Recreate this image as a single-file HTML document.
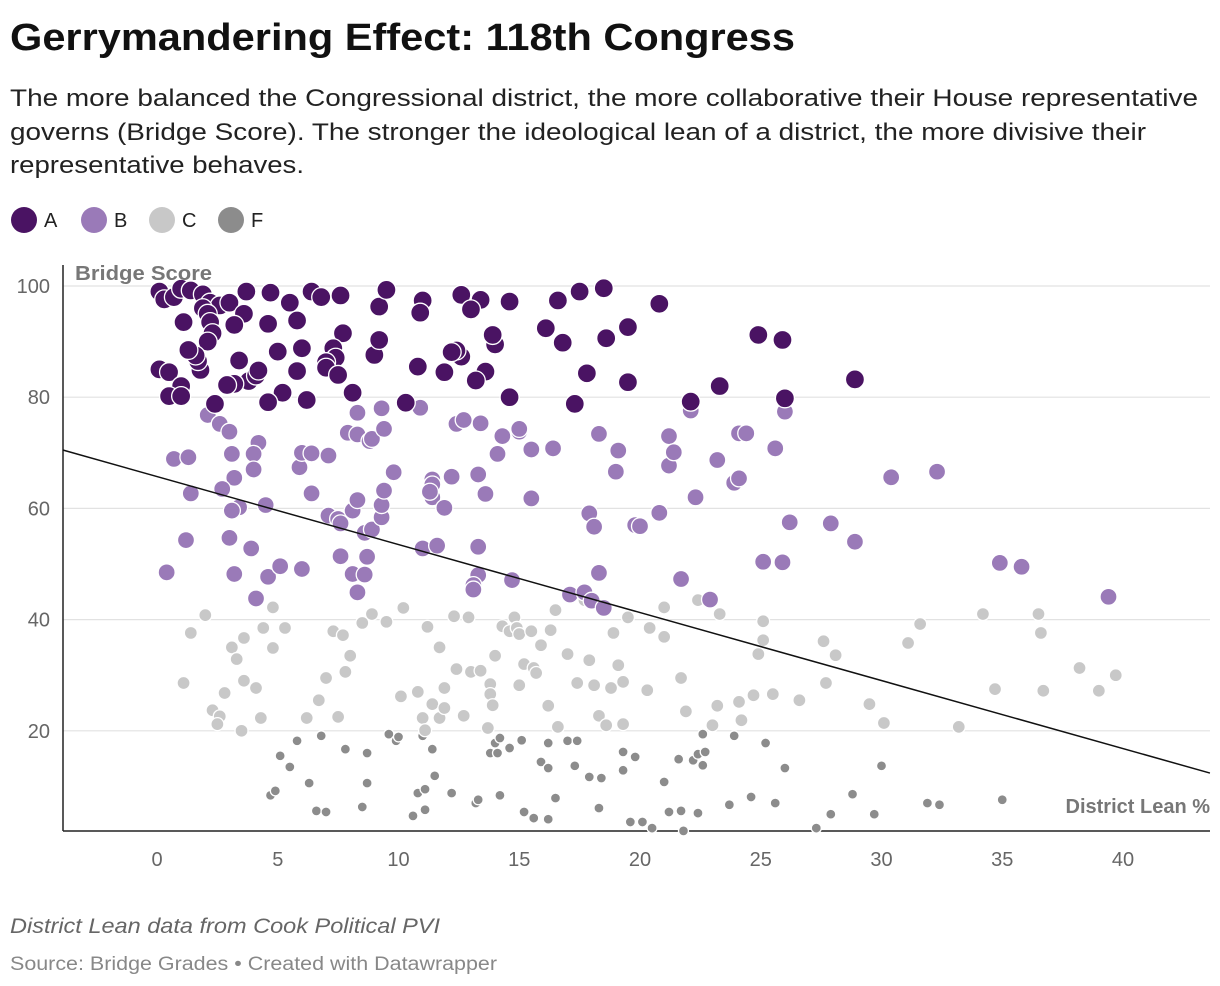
<!DOCTYPE html>
<html><head><meta charset="utf-8"><style>
html,body{margin:0;padding:0;background:#fff;}
svg{display:block;font-family:"Liberation Sans",sans-serif;}
</style></head><body>
<svg id="chart" width="1220" height="986" viewBox="0 0 1220 986">
<text x="10" y="50" font-size="38" font-weight="bold" fill="#111" textLength="785" lengthAdjust="spacingAndGlyphs">Gerrymandering Effect: 118th Congress</text>
<g font-size="24" fill="#222">
<text x="10" y="106" textLength="1188" lengthAdjust="spacingAndGlyphs">The more balanced the Congressional district, the more collaborative their House representative</text>
<text x="10" y="140" textLength="1136" lengthAdjust="spacingAndGlyphs">governs (Bridge Score). The stronger the ideological lean of a district, the more divisive their</text>
<text x="10" y="173" textLength="294" lengthAdjust="spacingAndGlyphs">representative behaves.</text>
</g>
<g id="legend" font-size="20" fill="#222"></g>
<g id="grid"></g>
<g id="axes"></g>
<g id="marks"></g>
<text x="75" y="280" font-size="20" font-weight="bold" fill="#777" textLength="137" lengthAdjust="spacingAndGlyphs">Bridge Score</text>
<text x="1210" y="813" text-anchor="end" font-size="20" font-weight="bold" fill="#777">District Lean %</text>
<text x="10" y="933" font-size="21" font-style="italic" fill="#666" textLength="430" lengthAdjust="spacingAndGlyphs">District Lean data from Cook Political PVI</text>
<text x="10" y="970" font-size="19" fill="#888" textLength="487" lengthAdjust="spacingAndGlyphs">Source: Bridge Grades • Created with Datawrapper</text>
</svg>
<script>
const xTicks=[0,5,10,15,20,25,30,35,40];
const yTicks=[20,40,60,80,100];
const trendLean=[-3.9,43.6];
const trendScore=[70.5,12.4];
const gradeNames=["A","B","C","F"];
const gradeA=[[0.1,99],[0.3,97.6],[0.7,98],[1.0,99.5],[1.4,99.2],[1.9,98.5],[2.2,97],[2.6,96.5],[3.0,97],[3.6,95],[1.9,96],[2.1,95],[2.2,93.5],[2.3,91.5],[2.1,90],[1.1,93.5],[3.2,93],[3.7,99],[4.7,98.8],[5.5,97],[5.8,93.8],[4.6,93.2],[6.4,99],[6.8,98],[7.6,98.3],[9.2,96.3],[9.5,99.3],[11,97.4],[10.9,95.2],[12.6,98.4],[13.4,97.5],[13.0,95.8],[14.6,97.2],[16.6,97.4],[17.5,99],[18.5,99.6],[20.8,96.8],[16.1,92.4],[16.8,89.8],[18.6,90.6],[19.5,92.6],[24.9,91.2],[25.9,90.3],[28.9,83.2],[26,79.8],[23.3,82],[22.1,79.2],[19.5,82.7],[17.8,84.3],[17.3,78.8],[14.6,80],[13.6,84.6],[13.2,83],[14.0,89.5],[13.9,91.2],[12.6,87.3],[12.4,88.4],[12.2,88.1],[11.9,84.5],[10.8,85.5],[10.3,79],[9.0,87.6],[9.2,90.3],[7.7,91.5],[7.3,88.8],[7.4,87.1],[7.0,86.3],[7.0,85.3],[7.5,84],[8.1,80.8],[6.2,79.5],[5.2,80.8],[4.6,79.1],[3.8,82.9],[4.1,83.9],[4.2,84.8],[3.4,86.6],[3.2,82.4],[2.9,82.2],[2.4,78.8],[1.8,84.9],[1.7,86.5],[1.6,87.5],[1.3,88.5],[6.0,88.8],[5.0,88.2],[5.8,84.7],[0.1,85],[0.5,84.5],[1.0,82],[0.5,80.2],[1.0,80.2]];
const gradeB=[[2.1,76.8],[2.6,75.2],[3,73.8],[3.1,69.8],[4.2,71.8],[4.0,69.8],[4.0,67.0],[3.2,65.5],[2.7,63.5],[1.4,62.7],[0.7,68.9],[1.3,69.2],[3.4,60.2],[3.1,59.6],[4.5,60.6],[3.0,54.7],[3.9,52.8],[3.2,48.2],[1.2,54.3],[0.4,48.5],[4.6,47.7],[5.1,49.6],[4.1,43.8],[6.0,49.1],[5.9,67.4],[6.0,70],[6.4,69.9],[6.4,62.7],[7.1,69.5],[7.1,58.7],[7.5,58.1],[7.6,57.3],[8.1,59.6],[8.3,61.5],[7.6,51.4],[8.1,48.2],[8.6,48.1],[8.7,51.3],[8.3,44.9],[8.6,55.6],[8.9,56.2],[9.3,58.4],[9.3,60.6],[9.4,63.2],[9.8,66.5],[9.3,78],[8.3,77.2],[7.9,73.6],[8.3,73.3],[8.8,72.1],[8.9,72.5],[9.4,74.3],[10.9,78.1],[11.4,65.2],[11.4,64.3],[11.4,62.0],[11.3,63],[11.9,60.1],[12.2,65.7],[11.0,52.8],[11.6,53.3],[12.4,75.2],[12.7,75.9],[13.4,75.3],[13.3,66.1],[13.6,62.6],[13.3,53.1],[13.3,48.0],[13.1,46.2],[13.1,45.4],[14.1,69.8],[14.3,73.0],[15.0,73.8],[15.0,74.3],[15.5,70.6],[16.4,70.8],[15.5,61.8],[14.7,47.1],[17.1,44.5],[17.7,44.9],[18.0,43.4],[17.9,59.1],[18.1,56.7],[18.3,73.4],[18.3,48.4],[18.5,42.1],[19.1,70.4],[19.0,66.6],[19.8,57],[20.0,56.8],[20.8,59.2],[21.2,73],[21.2,67.7],[21.4,70.1],[21.7,47.3],[22.1,77.6],[22.3,62],[22.9,43.6],[23.2,68.7],[23.9,64.6],[24.1,73.5],[24.1,65.4],[24.4,73.5],[25.1,50.4],[25.6,70.8],[25.9,50.3],[26.0,77.4],[26.2,57.5],[27.9,57.3],[28.9,54],[30.4,65.6],[32.3,66.6],[34.9,50.2],[35.8,49.5],[39.4,44.1]];
const gradeC=[[1.4,37.6],[2.0,40.8],[1.1,28.6],[2.3,23.7],[2.6,22.6],[2.5,21.2],[2.8,26.8],[3.1,35],[3.3,32.9],[3.6,36.7],[3.6,29],[4.1,27.7],[3.5,20],[4.3,22.3],[4.4,38.5],[4.8,42.2],[4.8,34.9],[5.3,38.5],[6.2,22.3],[6.7,25.5],[7.0,29.5],[7.3,37.9],[7.5,22.5],[7.7,37.2],[7.8,30.6],[8.0,33.5],[8.5,39.4],[8.9,41],[9.5,39.6],[10.1,26.2],[10.2,42.1],[10.8,27],[11.0,22.3],[11.2,38.7],[11.1,20.1],[11.4,24.8],[11.7,35],[11.9,27.7],[11.7,22.3],[11.9,24.1],[12.3,40.6],[12.4,31.1],[12.7,22.7],[13.0,30.6],[12.9,40.4],[13.4,30.8],[13.8,28.4],[14.0,33.5],[13.8,26.6],[13.9,24.6],[13.7,20.5],[14.3,38.8],[14.6,37.9],[14.8,40.4],[14.9,38.5],[15.0,37.4],[15.0,28.2],[15.2,32],[15.5,37.9],[15.6,31.3],[15.7,30.4],[15.9,35.4],[16.2,24.5],[16.3,38.1],[16.5,41.7],[16.6,20.7],[17.0,33.8],[17.4,28.6],[17.7,43.5],[17.9,32.7],[18.1,28.2],[18.3,22.7],[18.6,21],[18.9,37.6],[18.8,27.7],[19.1,31.8],[19.3,28.8],[19.5,40.4],[19.3,21.2],[20.3,27.3],[20.4,38.5],[21.0,42.2],[21.0,36.9],[21.7,29.5],[21.9,23.5],[22.4,43.5],[23.0,21],[23.3,41],[23.2,24.5],[24.1,25.2],[24.2,21.9],[24.7,26.4],[24.9,33.8],[25.1,39.7],[25.1,36.3],[25.5,26.6],[26.6,25.5],[27.6,36.1],[27.7,28.6],[28.1,33.6],[29.5,24.8],[30.1,21.4],[31.1,35.8],[31.6,39.2],[33.2,20.7],[34.2,41],[34.7,27.5],[36.5,41],[36.6,37.6],[36.7,27.2],[38.2,31.3],[39.0,27.2],[39.7,30]];
const gradeF=[[5.1,15.5],[5.5,13.5],[4.7,8.4],[4.9,9.2],[6.3,10.6],[5.8,18.2],[6.6,5.6],[7.0,5.4],[6.8,19.1],[7.8,16.7],[8.7,16],[8.7,10.6],[8.5,6.3],[9.6,19.4],[9.9,18.2],[10.0,18.9],[10.6,4.7],[10.8,8.8],[11.1,9.5],[11.4,16.7],[11.5,11.9],[11.0,19.1],[11.1,5.8],[12.2,8.8],[13.2,7],[13.3,7.6],[13.8,16],[14.0,17.8],[14.1,16],[14.2,18.7],[14.6,16.9],[14.2,8.4],[15.1,18.3],[15.2,5.4],[15.6,4.3],[16.2,4.1],[15.9,14.4],[16.2,17.8],[16.2,13.3],[16.5,7.9],[17.0,18.2],[17.3,13.7],[17.4,18.2],[17.9,11.7],[18.4,11.5],[18.3,6.1],[19.3,12.9],[19.3,16.2],[19.8,15.3],[19.6,3.6],[20.1,3.6],[20.5,2.5],[21.0,10.8],[21.2,5.4],[21.6,14.9],[21.7,5.6],[21.8,2],[22.2,14.7],[22.4,15.8],[22.6,19.4],[22.4,5.2],[22.6,13.8],[22.7,16.2],[23.9,19.1],[23.7,6.7],[24.6,8.1],[25.2,17.8],[25.6,7],[26.0,13.3],[27.3,2.5],[27.9,5],[28.8,8.6],[29.7,5],[30.0,13.7],[31.9,7],[32.4,6.7],[35.0,7.6]];

const NS="http://www.w3.org/2000/svg";
const L=63,R=1210,T=265,B=831;
function sx(v){return 157+(v-0)*(1123-157)/40;}
function sy(v){return 842-v*(842-286)/100;}
function mk(tag,attrs,parent){const e=document.createElementNS(NS,tag);for(const k in attrs)e.setAttribute(k,attrs[k]);parent.appendChild(e);return e;}
const grid=document.getElementById('grid'),axes=document.getElementById('axes'),marks=document.getElementById('marks'),legend=document.getElementById('legend');
yTicks.forEach(t=>{
  const gl=mk('line',{x1:L,x2:R,y1:sy(t),y2:sy(t),stroke:'#e2e2e2','stroke-width':1.2},grid);
  
  
  const tl=mk('text',{x:50,y:sy(t)+7,'text-anchor':'end','font-size':20,fill:'#666'},axes);
  tl.textContent=t;
  
  
});
xTicks.forEach(t=>{
  const tl=mk('text',{x:sx(t),y:866,'text-anchor':'middle','font-size':20,fill:'#666'},axes);
  tl.textContent=t;
  
  
});
const ya=mk('line',{x1:L,x2:L,y1:T,y2:B,stroke:'#222','stroke-width':1.5},axes);


const xa=mk('line',{x1:L,x2:R,y1:B,y2:B,stroke:'#222','stroke-width':1.5},axes);


const styles={A:['#4a1363',9.5],B:['#9a7ab8',8.5],C:['#c8c8c8',6.5],F:['#8c8c8c',5]};
const sets={A:gradeA,B:gradeB,C:gradeC,F:gradeF};
["F","C","B","A"].forEach(g=>{
  sets[g].forEach((p,i)=>{
    const c=mk('circle',{cx:sx(p[0]),cy:sy(p[1]),r:styles[g][1],fill:styles[g][0],stroke:'#fff','stroke-width':1.3},marks);
    
    
  });
});
const tr=mk('line',{x1:sx(trendLean[0]),y1:sy(trendScore[0]),x2:sx(trendLean[1]),y2:sy(trendScore[1]),stroke:'#111','stroke-width':1.5},marks);


const lx=[24,94,162,231];
gradeNames.forEach((g,i)=>{
  const c=mk('circle',{cx:lx[i],cy:220,r:13,fill:styles[g][0]},legend);
  
  
  const t=mk('text',{x:lx[i]+20,y:227},legend);
  t.textContent=g;
  
  
});
</script>
</body></html>
